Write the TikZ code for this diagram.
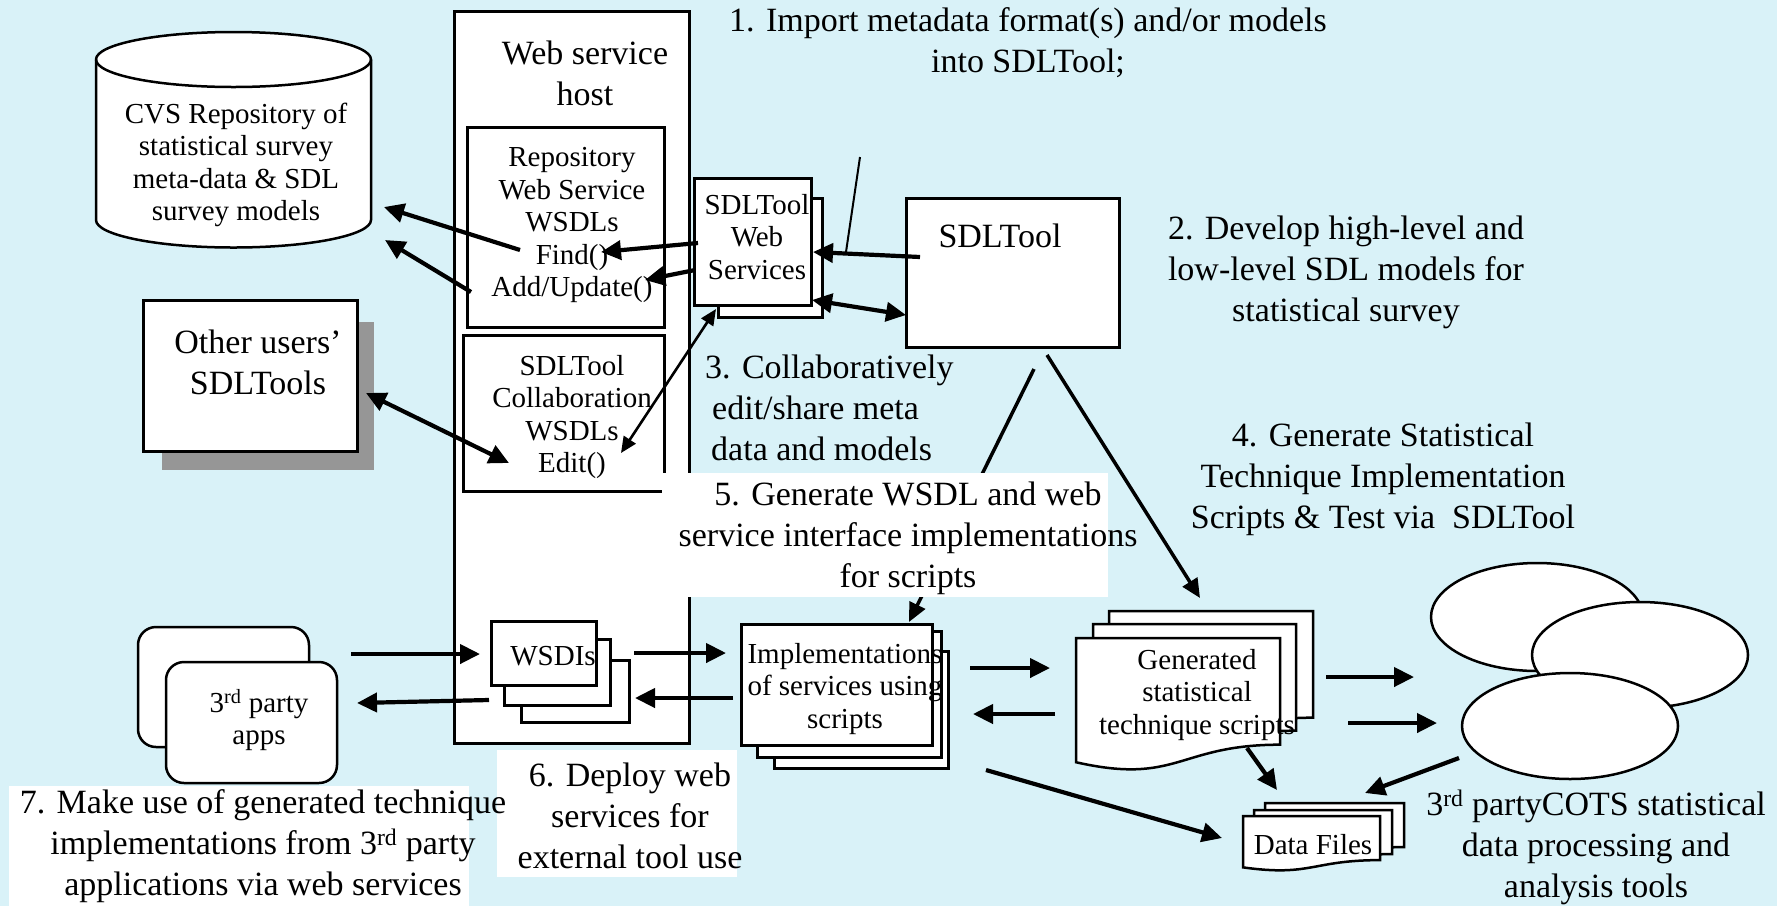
\documentclass[tikz,border=0pt]{standalone}
\usepackage{fontspec}
\setmainfont{Liberation Serif}
\usetikzlibrary{arrows.meta,shapes.geometric}
\definecolor{bg}{RGB}{217,242,248}
\definecolor{shadowgray}{RGB}{150,150,150}
\newcommand\bigf{\fontsize{34}{41}\selectfont}
\newcommand\smf{\fontsize{29}{32.5}\selectfont}
\newcommand\docshape[4]{% x y w H
  \draw[outline, fill=white, shift={(#1,#2)}] (0,0) -- (#3,0) -- (#3,0.802*#4)
    .. controls (0.5*#3,0.802*#4) and (0.5*#3,1.1075*#4) .. (0,0.934*#4) -- cycle;}
\tikzset{
  outline/.style={draw=black, line width=2.5pt, line join=miter},
  boxnode/.style={outline, fill=white, inner sep=0pt, anchor=north west, rectangle},
  txt/.style={inner sep=0pt, align=center, font=\bigf},
  stxt/.style={inner sep=0pt, align=center, font=\smf},
  fatarrow/.style={line width=4.2pt, -{Triangle[length=20pt,width=19pt]}},
  fatboth/.style={line width=4.2pt, {Triangle[length=20pt,width=19pt]}-{Triangle[length=20pt,width=19pt]}},
  midarrow/.style={line width=3.5pt, -{Triangle[length=19pt,width=17pt]}},
  thinboth/.style={line width=2.6pt, {Triangle[length=16pt,width=14pt]}-{Triangle[length=16pt,width=14pt]}},
  ell/.style={ellipse, outline, fill=white, inner sep=0pt},
}
\begin{document}
\begin{tikzpicture}[x=1pt,y=-1pt]
\fill[bg] (0,0) rectangle (1777,906);
\useasboundingbox (0,0) rectangle (1777,906);

% ---- cylinder (CVS repository)
\draw[outline, fill=white] (96,59.5) -- (96,220)
  arc[start angle=180, end angle=0, x radius=137.5, y radius=27.5] -- (371,59.5)
  arc[start angle=0, end angle=-180, x radius=137.5, y radius=27.5] -- cycle;
\draw[outline] (96,59.5) arc[start angle=180, end angle=0, x radius=137.5, y radius=27.5];
\node[stxt] (cvs) at (236,165) {CVS Repository of\\statistical survey\\meta-data \& SDL\\survey models};

% ---- other users
\fill[shadowgray] (162,322) rectangle (374,470);
\node[boxnode, minimum width=214pt, minimum height=151pt] (others) at (142,299) {};
\node[txt] (otherstxt) at (258,362) {Other users’\\SDLTools};

% ---- web service host
\node[boxnode, minimum width=235pt, minimum height=732pt] (host) at (453,10) {};
\node[txt] (hosttxt) at (585,73) {Web service\\host};
\node[boxnode, minimum width=197pt, minimum height=200pt] (repows) at (466,126) {};
\node[stxt] (repotxt) at (572,225) {Repository\\Web Service\\WSDLs\\Find()\\Add/Update()};
\node[boxnode, minimum width=201pt, minimum height=156pt] (collab) at (462,334) {};
\node[stxt] (collabtxt) at (572,417) {SDLTool\\Collaboration\\WSDLs\\Edit()};

% WSDIs stack
\node[boxnode, minimum width=108pt, minimum height=62pt] (wsdi3) at (520,659) {};
\node[boxnode, minimum width=106pt, minimum height=66pt] (wsdi2) at (503,638) {};
\node[boxnode, minimum width=105pt, minimum height=64pt] (wsdi1) at (490,620) {};
\node[stxt] (wsditxt) at (553,656) {WSDIs};

% ---- SDLTool web services stack
\node[boxnode, minimum width=104pt, minimum height=119pt] (ws2) at (717,197) {};
\node[boxnode, minimum width=117pt, minimum height=127pt] (ws1) at (693,177) {};
\node[stxt] (wstxt) at (757,237) {SDLTool\\Web\\Services};

% ---- SDLTool
\node[boxnode, minimum width=213pt, minimum height=149pt] (sdltool) at (905,197) {};
\node[txt] (sdltooltxt) at (1000,236) {SDLTool};

% ---- 3rd party apps
\draw[outline, fill=white, rounded corners=18pt] (138,627) rectangle (309,747);
\draw[outline, fill=white, rounded corners=18pt] (166,662) rectangle (337,783);
\node[stxt] (apps) at (259,720) {3\textsuperscript{rd} party\\apps};

% ---- implementations stack
\node[boxnode, minimum width=174pt, minimum height=117pt] (impl3) at (773,650) {};
\node[boxnode, minimum width=184pt, minimum height=126pt] (impl2) at (756,630) {};
\node[boxnode, minimum width=191pt, minimum height=121pt] (impl1) at (740,623) {};
\node[stxt] (impltxt) at (845,689) {Implementations\\of services using\\scripts};

% ---- generated scripts stack
\docshape{1109}{611}{204}{133}
\docshape{1093}{624}{203}{133}
\docshape{1076}{638}{204}{133}
\node[stxt] (gentxt) at (1197,695) {Generated\\statistical\\technique scripts};

% ---- data files stack
\docshape{1265}{803}{139}{55}
\docshape{1254}{810}{138}{55}
\docshape{1243}{816}{137}{55}
\node[stxt] (datatxt) at (1313,845) {Data Files};

% ---- COTS ellipses
\node[ell, minimum width=212pt, minimum height=108pt] (e1) at (1537,617) {};
\node[ell, minimum width=216pt, minimum height=106pt] (e2) at (1640,655) {};
\node[ell, minimum width=216pt, minimum height=106pt] (e3) at (1570,726) {};

% ---- plain labels
\node[txt] (l1) at (1028,43) {1. Import metadata format(s) and/or models\\into SDLTool;};
\node[txt] (l2) at (1346,272) {2. Develop high-level and\\low-level SDL models for\\statistical survey};
\node[txt, align=left, anchor=west] (l3) at (705,408) {3. Collaboratively\\\hspace*{7pt}edit/share meta\\\hspace*{6pt}data and models};
\node[txt] (l4) at (1383,479) {4. Generate Statistical\\Technique Implementation\\Scripts \& Test via\ \ SDLTool};
\node[txt] (lcots) at (1596,847) {3\textsuperscript{rd} partyCOTS statistical\\data processing and\\analysis tools};

% ---- connector end points
\coordinate (a1s) at (351,654); \coordinate (a1e) at (480,654);
\coordinate (a2s) at (489,700); \coordinate (a2e) at (357,703);
\coordinate (a3s) at (634,653); \coordinate (a3e) at (726,653);
\coordinate (a4s) at (733,698); \coordinate (a4e) at (635,698);
\coordinate (a5s) at (920,257); \coordinate (a5e) at (813,252);
\coordinate (a6s) at (812,300); \coordinate (a6e) at (906,315);
\coordinate (a7s) at (698,243); \coordinate (a7e) at (601,252);
\coordinate (a8s) at (695,270); \coordinate (a8e) at (645,280);
\coordinate (a9s) at (520,250); \coordinate (a9e) at (384,207);
\coordinate (a10s) at (471,292); \coordinate (a10e) at (385,240);
\coordinate (a11s) at (366,393); \coordinate (a11e) at (509,463);
\coordinate (a12s) at (621,453); \coordinate (a12e) at (716,309);
\coordinate (a13s) at (1034,369); \coordinate (a13e) at (909,622);
\coordinate (a14s) at (1047,355); \coordinate (a14e) at (1200,598);
\coordinate (a15s) at (970,668); \coordinate (a15e) at (1050,668);
\coordinate (a16s) at (1055,714); \coordinate (a16e) at (973,714);
\coordinate (a17s) at (1326,677); \coordinate (a17e) at (1414,677);
\coordinate (a18s) at (1348,723); \coordinate (a18e) at (1437,723);
\coordinate (a19s) at (1459,758); \coordinate (a19e) at (1365,793);
\coordinate (a20s) at (1247,748); \coordinate (a20e) at (1277,790);
\coordinate (a21s) at (986,770); \coordinate (a21e) at (1222,838);
\coordinate (strayA) at (860,157); \coordinate (strayB) at (846,252);

% ---- connectors
\draw[fatarrow] (a1s) -- (a1e);
\draw[fatarrow] (a2s) -- (a2e);
\draw[fatarrow] (a3s) -- (a3e);
\draw[fatarrow] (a4s) -- (a4e);
\draw[fatarrow] (a5s) -- (a5e);
\draw[fatboth] (a6s) -- (a6e);
\draw[fatarrow] (a7s) -- (a7e);
\draw[fatarrow] (a8s) -- (a8e);
\draw[fatarrow] (a9s) -- (a9e);
\draw[fatarrow] (a10s) -- (a10e);
\draw[fatboth] (a11s) -- (a11e);
\draw[thinboth] (a12s) -- (a12e);
\draw[midarrow] (a13s) -- (a13e);
\draw[midarrow] (a14s) -- (a14e);
\draw[fatarrow] (a15s) -- (a15e);
\draw[fatarrow] (a16s) -- (a16e);
\draw[fatarrow] (a17s) -- (a17e);
\draw[fatarrow] (a18s) -- (a18e);
\draw[fatarrow] (a19s) -- (a19e);
\draw[fatarrow] (a20s) -- (a20e);
\draw[fatarrow] (a21s) -- (a21e);
\draw[line width=2pt] (strayA) -- (strayB);

% ---- white label boxes on top
\fill[white] (662,473) rectangle (1108,597);
\node[txt] (l5) at (908,538) {5. Generate WSDL and web\\service interface implementations\\for scripts};
\fill[white] (497,750) rectangle (737,877);
\node[txt] (l6) at (630,816) {6. Deploy web\\services for\\external tool use};
\fill[white] (9,786) rectangle (469,906);
\node[txt] (l7) at (263,846) {7. Make use of generated technique\\implementations from 3\textsuperscript{rd} party\\applications via web services};
\end{tikzpicture}
\end{document}
